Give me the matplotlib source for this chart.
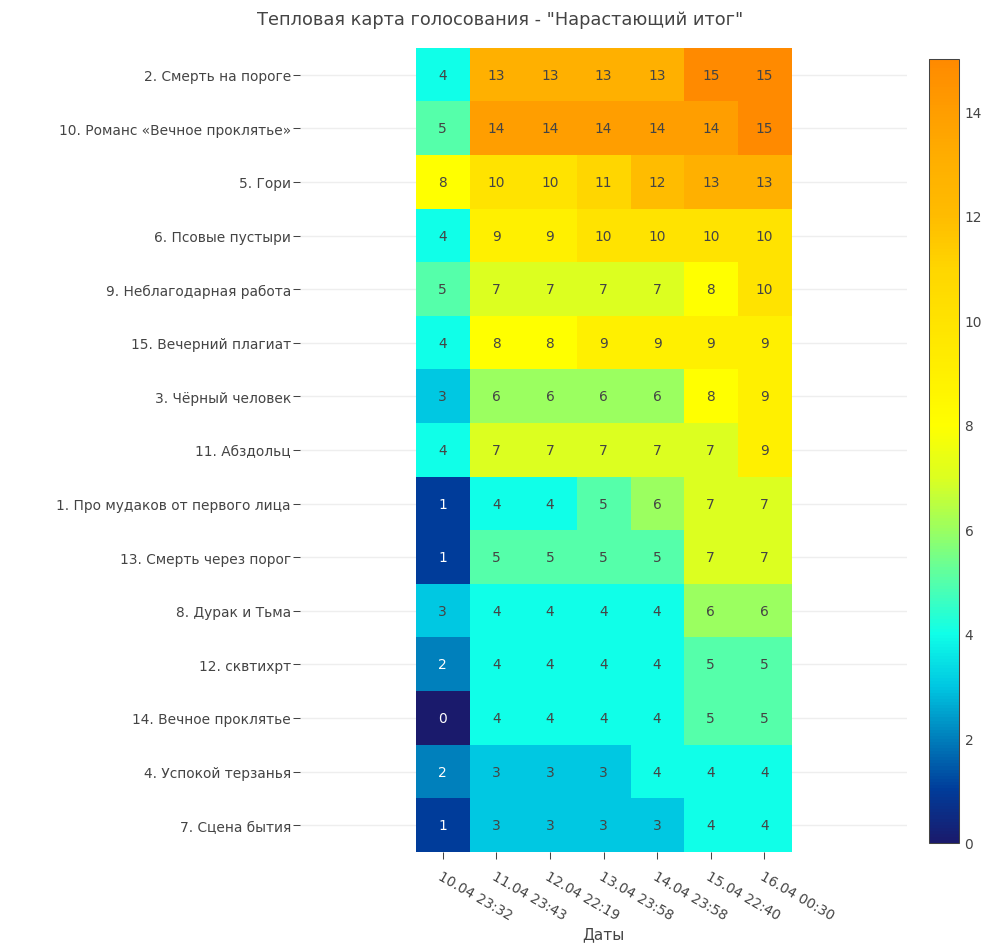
import numpy as np
import matplotlib
matplotlib.use("Agg")
import matplotlib.pyplot as plt
from matplotlib.colors import LinearSegmentedColormap

plt.rcParams['font.family'] = ['DejaVu Sans']

# --- data ---
songs = [
    "2. Смерть на пороге",
    "10. Романс «Вечное проклятье»",
    "5. Гори",
    "6. Псовые пустыри",
    "9. Неблагодарная работа",
    "15. Вечерний плагиат",
    "3. Чёрный человек",
    "11. Абздольц",
    "1. Про мудаков от первого лица",
    "13. Смерть через порог",
    "8. Дурак и Тьма",
    "12. сквтихрт",
    "14. Вечное проклятье",
    "4. Успокой терзанья",
    "7. Сцена бытия",
]
dates = ["10.04 23:32", "11.04 23:43", "12.04 22:19", "13.04 23:58",
         "14.04 23:58", "15.04 22:40", "16.04 00:30"]
votes = [
    [4, 13, 13, 13, 13, 15, 15],
    [5, 14, 14, 14, 14, 14, 15],
    [8, 10, 10, 11, 12, 13, 13],
    [4, 9, 9, 10, 10, 10, 10],
    [5, 7, 7, 7, 7, 8, 10],
    [4, 8, 8, 9, 9, 9, 9],
    [3, 6, 6, 6, 6, 8, 9],
    [4, 7, 7, 7, 7, 7, 9],
    [1, 4, 4, 5, 6, 7, 7],
    [1, 5, 5, 5, 5, 7, 7],
    [3, 4, 4, 4, 4, 6, 6],
    [2, 4, 4, 4, 4, 5, 5],
    [0, 4, 4, 4, 4, 5, 5],
    [2, 3, 3, 3, 4, 4, 4],
    [1, 3, 3, 3, 3, 4, 4],
]
title = 'Тепловая карта голосования - "Нарастающий итог"'
xlabel = "Даты"

# colour for each integer level 0..15 as seen in the picture
level_colors = ["#1a1a6c", "#003c9a", "#0080bc", "#00c8e2", "#10ffe8", "#55ffaa",
                "#9bff60", "#dcff20", "#ffff00", "#fff000", "#ffe300", "#ffd600",
                "#ffbc00", "#ffb000", "#ff9e00", "#ff8a00"]
vmax = 15
cmap = LinearSegmentedColormap.from_list(
    "votes", [(i / vmax, c) for i, c in enumerate(level_colors)])

W, H = 1000, 953
fig = plt.figure(figsize=(W / 100, H / 100), dpi=100)
fs = 9.9  # ~13.5px, matches the plotly labels

# plot area in pixels (plotly-like layout)
ax_l, ax_r, ax_t, ax_b = 300, 907, 49, 853
ax = fig.add_axes([ax_l / W, 1 - ax_b / H, (ax_r - ax_l) / W, (ax_b - ax_t) / H])

z = np.array(votes)
nrow, ncol = z.shape
ax.imshow(z, cmap=cmap, vmin=0, vmax=vmax, aspect='auto', interpolation='nearest',
          extent=(-0.5, ncol - 0.5, nrow - 0.5, -0.5), zorder=2)

ax.set_ylim(nrow - 0.5, -0.5)
half_w = 0.5 * nrow * (ax_r - ax_l) / (ax_b - ax_t)
cx = (ncol - 1) / 2
ax.set_xlim(cx - half_w, cx + half_w)

for sp in ax.spines.values():
    sp.set_visible(False)

ax.set_yticks(range(nrow))
ax.set_yticklabels(songs, fontsize=fs, color='#444444')
ax.set_xticks(range(ncol))
ax.set_xticklabels(dates, fontsize=fs, color='#444444', rotation=-30,
                   ha='left', va='top', rotation_mode='anchor')
ax.tick_params(axis='both', length=5, width=0.75, color='#444444', pad=1.5)
ax.tick_params(axis='x', pad=7)
ax.grid(axis='y', color='#eeeeee', linewidth=1, zorder=0)
ax.set_axisbelow(True)
ax.set_xlabel(xlabel, fontsize=11, color='#444444', labelpad=3)

for i in range(nrow):
    for j in range(ncol):
        v = z[i, j]
        ax.text(j, i, str(v), ha='center', va='center', fontsize=fs,
                color='white' if v <= 2 else '#444444', zorder=3)

fig.text(0.5, 1 - 20 / H, title, ha='center', va='center', fontsize=12.8, color='#444444')

# colorbar
cax = fig.add_axes([929 / W, 1 - 844 / H, 30 / W, (844 - 60) / H])
sm = plt.cm.ScalarMappable(cmap=cmap, norm=plt.Normalize(0, vmax))
cb = fig.colorbar(sm, cax=cax, ticks=range(0, vmax, 2))
cb.outline.set_edgecolor('#444444')
cb.outline.set_linewidth(0.75)
cax.tick_params(length=0, labelsize=fs, labelcolor='#444444', pad=4)

fig.savefig("out.png", dpi=100)
